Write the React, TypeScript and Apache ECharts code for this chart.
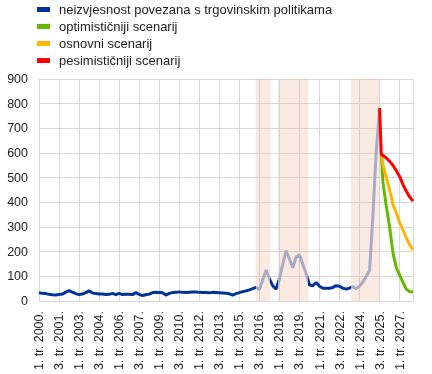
import React, { useEffect, useRef } from "react";
import * as echarts from "echarts";

// Quarterly index: 0 = 1. tr. 2000., 112 = 1. tr. 2028.
const historyValues = [
  34, 31, 30, 27, 25, 24, 26, 28, 36, 42, 36, 30, 26, 28, 34, 41, 33, 30, 28, 28,
  26, 27, 31, 26, 31, 26, 27, 27, 26, 34, 27, 22, 25, 28, 34, 35, 34, 33, 24, 31,
  34, 35, 37, 35, 34, 35, 36, 37, 35, 34, 34, 33, 35, 34, 33, 32, 31, 29, 24, 30,
  34, 38, 41, 45, 50, 55, 47, 85, 126, 90, 62, 48, 90, 150, 204, 170, 135, 180, 186, 150,
  110, 65, 62, 75, 60, 52, 52, 52, 55, 62, 60, 52, 48, 52, 58, 50, 60, 78, 100, 125,
  350, 610, 782,
];
const projectionQuarters = [102.5, 103, 104, 105, 106, 107, 108, 109, 110, 111, 112];
const optimisticValues = [595, 480, 385, 300, 195, 135, 105, 75, 48, 38, 38];
const baselineValues = [595, 553, 500, 452, 390, 357, 318, 288, 256, 228, 207];
const pessimisticValues = [595, 590, 580, 566, 550, 528, 505, 472, 445, 422, 405];

// Periods shown in grey / shaded (quarter index)
const shadedPeriods = [
  [64.9, 69.3],
  [71.6, 80.7],
  [93.4, 101.9],
];

const tickLabels = [
  "1. tr. 2000.", "3. tr. 2001.", "1. tr. 2003.", "3. tr. 2004.", "1. tr. 2006.",
  "3. tr. 2007.", "1. tr. 2009.", "3. tr. 2010.", "1. tr. 2012.", "3. tr. 2013.",
  "1. tr. 2015.", "3. tr. 2016.", "1. tr. 2018.", "3. tr. 2019.", "1. tr. 2021.",
  "3. tr. 2022.", "1. tr. 2024.", "3. tr. 2025.", "1. tr. 2027.",
];

const seriesNames = [
  "neizvjesnost povezana s trgovinskim politikama",
  "optimističniji scenarij",
  "osnovni scenarij",
  "pesimističniji scenarij",
];
const BLUE = "#003299";
const GREY = "#a9abc6";
const GREEN = "#65b800";
const YELLOW = "#ffb400";
const RED = "#ff0000";
const FONT = "Liberation Sans, Arial, sans-serif";

export default function App() {
  const ref = useRef<HTMLDivElement>(null);
  useEffect(() => {
    if (!ref.current) return;
    const chart = echarts.init(ref.current, undefined, { renderer: "svg" });
    const history = historyValues.map((v, i) => [i, v]);
    const lastIdx = historyValues.length - 1;
    const proj = (vals: number[]) => projectionQuarters.map((q, i) => [q, vals[i]]);
    chart.setOption({
      animation: false,
      textStyle: { fontFamily: FONT },
      grid: { left: 39, right: 19, top: 79, bottom: 73, containLabel: false },
      legend: {
        orient: "vertical",
        left: 37,
        top: 3,
        padding: 0,
        itemWidth: 13,
        itemHeight: 5,
        itemGap: 4,
        icon: "rect",
        selectedMode: false,
        textStyle: { fontSize: 13, color: "#222", fontFamily: FONT, padding: [0, 0, 0, 4] },
        data: seriesNames.map((n, i) => ({
          name: n,
          itemStyle: { color: [BLUE, GREEN, YELLOW, RED][i] },
        })),
      },
      visualMap: {
        show: false,
        type: "piecewise",
        seriesIndex: 0,
        dimension: 0,
        pieces: shadedPeriods.map(([a, b]) => ({ gte: a, lte: b, color: GREY })),
        outOfRange: { color: BLUE },
      },
      xAxis: {
        type: "value",
        min: 0,
        max: 112,
        interval: 6,
        axisLine: { show: true, lineStyle: { color: "#d9d9d9" } },
        axisTick: { show: false },
        splitLine: { show: true, lineStyle: { color: "#d9d9d9", width: 1 } },
        axisLabel: {
          rotate: 90,
          margin: 10,
          fontSize: 12.5,
          color: "#222",
          fontFamily: FONT,
          showMaxLabel: false,
          formatter: (v: number) => (v % 6 === 0 ? tickLabels[v / 6] ?? "" : ""),
        },
      },
      yAxis: {
        type: "value",
        min: 0,
        max: 900,
        interval: 100,
        axisLine: { show: true, lineStyle: { color: "#d9d9d9" } },
        axisTick: { show: false },
        splitLine: { show: true, lineStyle: { color: "#d9d9d9", width: 1 } },
        axisLabel: { fontSize: 12.5, color: "#222", margin: 11, fontFamily: FONT },
      },
      series: [
        {
          name: seriesNames[0],
          type: "line",
          data: history,
          symbol: "none",
          lineStyle: { width: 3 },
          itemStyle: { color: BLUE },
          z: 2,
        },
        {
          name: seriesNames[1],
          type: "line",
          data: proj(optimisticValues),
          symbol: "none",
          lineStyle: { width: 3, color: GREEN },
          itemStyle: { color: GREEN },
          z: 3,
          markArea: {
            silent: true,
            z: 1,
            itemStyle: { color: "rgba(240,170,140,0.25)" },
            data: shadedPeriods.map(([a, b]) => [{ xAxis: a }, { xAxis: b }]),
          },
        },
        {
          name: seriesNames[2],
          type: "line",
          data: proj(baselineValues),
          symbol: "none",
          lineStyle: { width: 3, color: YELLOW },
          itemStyle: { color: YELLOW },
          z: 4,
        },
        {
          name: seriesNames[3],
          type: "line",
          data: [[lastIdx, historyValues[lastIdx]], ...proj(pessimisticValues)],
          symbol: "none",
          lineStyle: { width: 3, color: RED },
          itemStyle: { color: RED },
          z: 5,
        },
      ],
    });
    return () => chart.dispose();
  }, []);
  return (
    <div
      ref={ref}
      style={{ position: "fixed", left: 0, top: 0, width: 432, height: 374 }}
    />
  );
}
